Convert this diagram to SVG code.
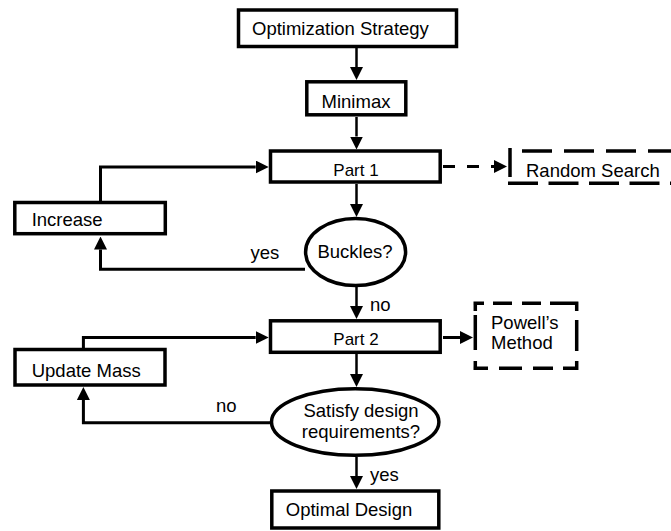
<svg xmlns="http://www.w3.org/2000/svg" width="671" height="531" viewBox="0 0 671 531">
<style>
.box{fill:#fff;stroke:#000;stroke-width:3.5}
.dbox{fill:none;stroke:#000;stroke-width:3.5;stroke-linecap:butt}
.t{font-family:"Liberation Sans",Arial,sans-serif;font-size:18.5px;fill:#000}
.m{text-anchor:middle}
.sm{font-size:17px}
.c{fill:none;stroke:#000;stroke-width:2.5}
.cl{fill:none;stroke:#000;stroke-width:3}
</style>
<defs>
<marker id="ah" viewBox="0 0 13 13" markerWidth="13" markerHeight="13" refX="0" refY="6.5" orient="auto" markerUnits="userSpaceOnUse">
<path d="M0,0 L13,6.5 L0,13 z" fill="#000"/>
</marker>
</defs>
<rect width="671" height="531" fill="#fff"/>
<g id="connectors">
<line class="c" x1="356.5" y1="48" x2="356.5" y2="67" marker-end="url(#ah)"/>
<line class="c" x1="356.5" y1="117" x2="356.5" y2="136.5" marker-end="url(#ah)"/>
<line class="c" x1="356.5" y1="184" x2="356.5" y2="204" marker-end="url(#ah)"/>
<line class="c" x1="356.5" y1="287" x2="356.5" y2="306" marker-end="url(#ah)"/>
<line class="c" x1="356.5" y1="354" x2="356.5" y2="374" marker-end="url(#ah)"/>
<line class="c" x1="356.5" y1="457" x2="356.5" y2="476" marker-end="url(#ah)"/>
<polyline class="cl" points="305,269.3 100.5,269.3 100.5,249.5" marker-end="url(#ah)"/>
<polyline class="cl" points="100.5,201 100.5,167 255.7,167" marker-end="url(#ah)"/>
<polyline class="cl" points="270,422.7 83.4,422.7 83.4,400" marker-end="url(#ah)"/>
<polyline class="cl" points="83.4,348 83.4,337.5 255.7,337.5" marker-end="url(#ah)"/>
<line class="cl" x1="443" y1="166.5" x2="494" y2="166.5" stroke-dasharray="12 12"/>
<path d="M494,160 L507,166.5 L494,173 z" fill="#000"/>
<line class="cl" x1="443" y1="337.5" x2="460" y2="337.5" marker-end="url(#ah)"/>
<text class="t" x="250.5" y="259">yes</text>
<text class="t" x="370" y="311">no</text>
<text class="t" x="216" y="412">no</text>
<text class="t" x="370" y="481">yes</text>
</g>
<g id="opt-strategy">
<rect class="box" x="238.5" y="10" width="218" height="36.5"/>
<text class="t" x="252" y="35">Optimization Strategy</text>
</g>
<g id="minimax">
<rect class="box" x="306.8" y="81.8" width="99" height="33"/>
<text class="t m" x="356" y="108">Minimax</text>
</g>
<g id="part1">
<rect class="box" x="270.5" y="151" width="169.7" height="31"/>
<text class="t m sm" x="356" y="176">Part 1</text>
</g>
<g id="random-search">
<line class="dbox" x1="510" y1="148" x2="510" y2="177"/>
<line class="dbox" x1="522" y1="151" x2="671" y2="151" stroke-dasharray="30 12"/>
<line class="dbox" x1="508" y1="183.3" x2="671" y2="183.3" stroke-dasharray="30 10.5"/>
<text class="t" x="526" y="177">Random Search</text>
</g>
<g id="increase">
<rect class="box" x="14.8" y="202.5" width="150.5" height="31.2"/>
<text class="t" x="31.7" y="226">Increase</text>
</g>
<g id="buckles">
<ellipse class="box" cx="355.6" cy="252" rx="50" ry="33.5"/>
<text class="t m" x="355" y="258">Buckles?</text>
</g>
<g id="part2">
<rect class="box" x="270.5" y="320.8" width="169.7" height="31.5"/>
<text class="t m sm" x="356" y="345">Part 2</text>
</g>
<g id="powell">
<path class="dbox" d="M473.5,303.3 H484 M493,303.3 H512 M522,303.3 H541 M550,303.3 H578.4 M576.7,302 V311 M576.7,320 V351 M576.7,361 V370 M473.5,368.3 H488 M499,368.3 H522 M533,368.3 H553 M563,368.3 H578.4 M475.3,302 V311 M475.3,315 V350 M475.3,361 V370"/>
<text class="t" x="491" y="329">Powell’s</text>
<text class="t" x="491" y="349">Method</text>
</g>
<g id="update-mass">
<rect class="box" x="15" y="349.5" width="150" height="35.5"/>
<text class="t" x="31.7" y="376.5">Update Mass</text>
</g>
<g id="satisfy">
<ellipse class="box" cx="355.2" cy="422" rx="83.7" ry="33.3"/>
<text class="t m" x="361" y="417">Satisfy design</text>
<text class="t m" x="361" y="438">requirements?</text>
</g>
<g id="optimal">
<rect class="box" x="271.8" y="491" width="167" height="37"/>
<text class="t" x="285.8" y="516">Optimal Design</text>
</g>
</svg>
